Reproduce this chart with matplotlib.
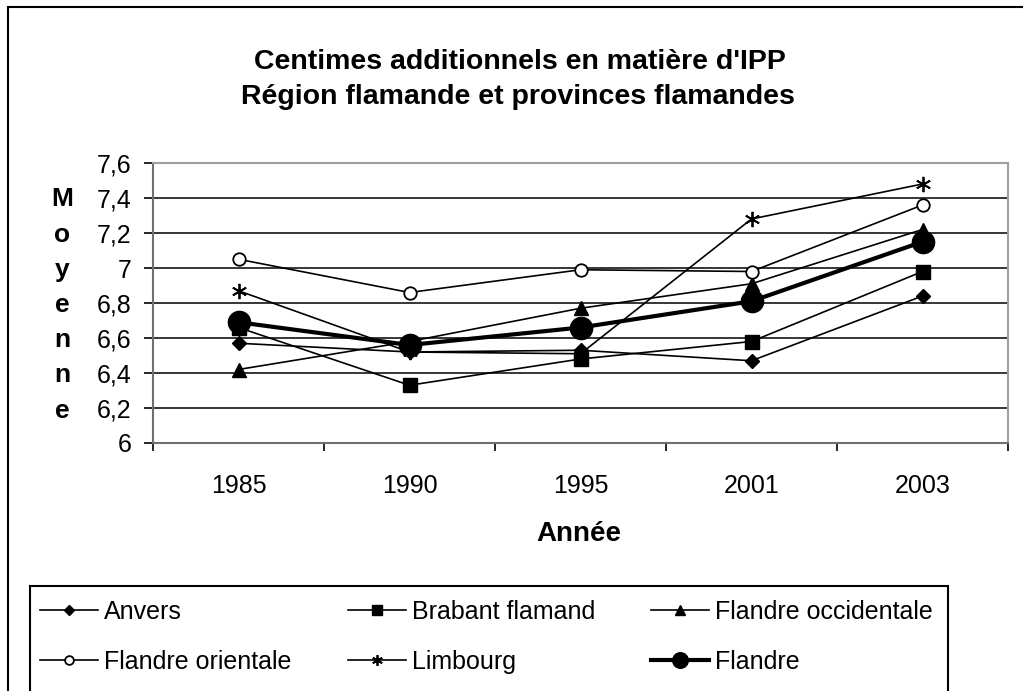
import matplotlib
matplotlib.use("Agg")
import matplotlib.pyplot as plt
from matplotlib.patches import Rectangle

plt.rcParams['font.family'] = ['Liberation Sans', 'DejaVu Sans']

annees = ['1985', '1990', '1995', '2001', '2003']
anvers = [6.57, 6.52, 6.53, 6.47, 6.84]
brabant = [6.66, 6.33, 6.48, 6.58, 6.98]
fl_occ = [6.42, 6.58, 6.77, 6.91, 7.22]
fl_or = [7.05, 6.86, 6.99, 6.98, 7.36]
limbourg = [6.87, 6.52, 6.51, 7.28, 7.48]
flandre = [6.69, 6.56, 6.66, 6.81, 7.15]

yticks = [6, 6.2, 6.4, 6.6, 6.8, 7, 7.2, 7.4, 7.6]
ylabels = ['6', '6,2', '6,4', '6,6', '6,8', '7', '7,2', '7,4', '7,6']

W, H = 1023, 691
fig = plt.figure(figsize=(W / 100, H / 100), dpi=100)
ax = fig.add_axes([153 / W, 1 - 443 / H, 855 / W, 280 / H])

x = range(len(annees))
ax.plot(x, anvers, color='black', lw=1.2, marker='D', ms=7, label='Anvers')
ax.plot(x, brabant, color='black', lw=1.2, marker='s', ms=9.5, label='Brabant flamand')
ax.plot(x, fl_occ, color='black', lw=1.2, marker='^', ms=10, label='Flandre occidentale')
ax.plot(x, fl_or, color='black', lw=1.2, marker='o', ms=9, mfc='white', mew=1.3,
        label='Flandre orientale')
ax.plot(x, limbourg, color='black', lw=1.2, marker=(6, 2, 0), ms=11, mew=1.3,
        label='Limbourg')
ax.plot(x, flandre, color='black', lw=3, marker='o', ms=16, label='Flandre')

ax.set_xlim(-0.5, len(annees) - 0.5)
ax.set_ylim(6, 7.6)
ax.set_xticks(x)
ax.set_xticklabels(annees)
ax.set_xticks([i - 0.5 for i in range(len(annees) + 1)], minor=True)
ax.tick_params(axis='x', which='major', length=0, pad=22, labelsize=18)
ax.tick_params(axis='x', which='minor', length=6, direction='out', width=1.2)
ax.set_yticks(yticks)
ax.set_yticklabels(ylabels)
ax.tick_params(axis='y', length=6.5, width=1.2, labelsize=18, pad=9)
ax.grid(axis='y', color='black', lw=1.1)
ax.set_axisbelow(True)
for s in ['top', 'right']:
    ax.spines[s].set_color('#a0a0a0')
    ax.spines[s].set_linewidth(1.5)
for s in ['left', 'bottom']:
    ax.spines[s].set_color('#707070')
    ax.spines[s].set_linewidth(1.5)

fig.text(520 / W, 1 - 62 / H, "Centimes additionnels en matière d'IPP",
         ha='center', va='center', fontsize=20.5, fontweight='bold')
fig.text(518 / W, 1 - 97 / H, "Région flamande et provinces flamandes",
         ha='center', va='center', fontsize=20.5, fontweight='bold')
fig.text(579 / W, 1 - 534 / H, "Année", ha='center', va='center',
         fontsize=20, fontweight='bold')
fig.text(62 / W, 1 - 305 / H, "M\no\ny\ne\nn\nn\ne", ha='center', va='center',
         fontsize=19, fontweight='bold', linespacing=1.59)

# outer frame (cut off at right/bottom) and legend frame
fig.patches.append(Rectangle((8 / W, -0.05), 1.1, 1.05 - 7 / H, transform=fig.transFigure,
                             fill=False, ec='black', lw=1.5))
fig.patches.append(Rectangle((30 / W, -0.05), 918 / W, 0.05 + (H - 586) / H,
                             transform=fig.transFigure, fill=False, ec='black', lw=1.5))

handles, labels = ax.get_legend_handles_labels()
columns = [(0, 3), (1, 4), (2, 5)]
col_x = [40, 348, 651]
for cx, (a, b) in zip(col_x, columns):
    leg = fig.legend([handles[a], handles[b]], [labels[a], labels[b]],
                     loc='upper left', bbox_to_anchor=(cx / W, 1 - 600 / H),
                     frameon=False, fontsize=18, handlelength=2.3, handletextpad=0.25,
                     labelspacing=1.03, markerscale=0.7, borderpad=0, borderaxespad=0)

fig.savefig('out.png', dpi=100)
